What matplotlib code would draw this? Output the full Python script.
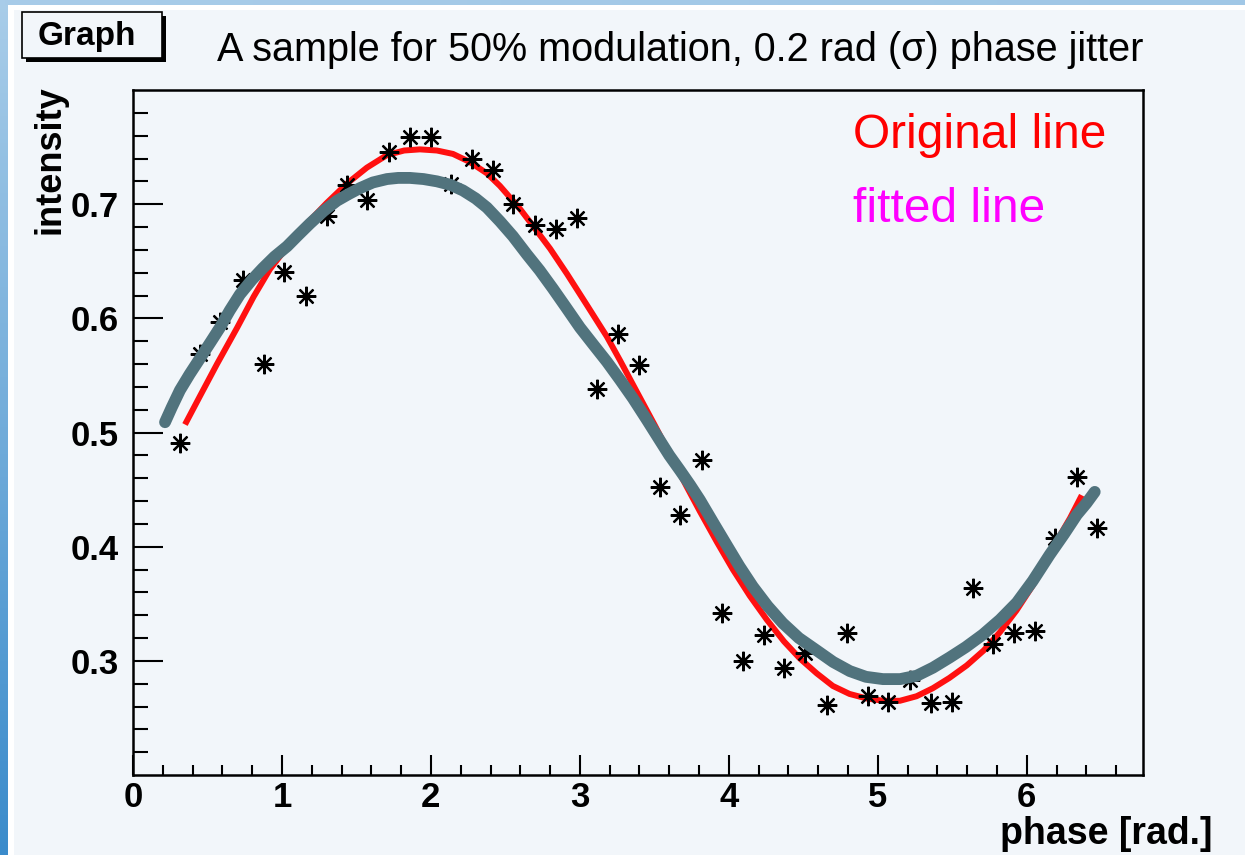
import numpy as np
import matplotlib
matplotlib.use("Agg")
import matplotlib.pyplot as plt
from matplotlib.patches import Rectangle
from matplotlib.colors import LinearSegmentedColormap

# ---- data ----
meas_x = [0.315, 0.45, 0.584, 0.738, 0.879, 1.013, 1.161, 1.302, 1.436, 1.57,
          1.718, 1.859, 2.0, 2.134, 2.275, 2.416, 2.55, 2.698, 2.839, 2.98,
          3.114, 3.255, 3.396, 3.537, 3.671, 3.819, 3.953, 4.094, 4.235, 4.369,
          4.51, 4.658, 4.792, 4.933, 5.067, 5.215, 5.356, 5.497, 5.638, 5.772,
          5.913, 6.054, 6.188, 6.336, 6.47]
meas_y = [0.491, 0.569, 0.597, 0.634, 0.560, 0.641, 0.620, 0.690, 0.717, 0.704,
          0.746, 0.759, 0.759, 0.718, 0.740, 0.730, 0.700, 0.682, 0.678, 0.688,
          0.538, 0.586, 0.559, 0.452, 0.428, 0.476, 0.342, 0.300, 0.323, 0.294,
          0.307, 0.261, 0.324, 0.269, 0.264, 0.283, 0.263, 0.264, 0.364, 0.315,
          0.324, 0.326, 0.408, 0.461, 0.416]

orig_x = [0.349, 0.45, 0.564, 0.70, 0.81, 0.919, 1.05, 1.168, 1.30, 1.436, 1.57, 1.705,
          1.82, 1.926, 2.04, 2.148, 2.26, 2.376, 2.463, 2.597, 2.685, 2.80, 2.913,
          3.05, 3.181, 3.27, 3.356, 3.50, 3.624, 3.715, 3.805, 3.92, 4.027, 4.14,
          4.255, 4.37, 4.477, 4.59, 4.698, 4.81, 4.926, 5.04, 5.148, 5.26, 5.369,
          5.48, 5.597, 5.71, 5.819, 5.93, 6.04, 6.12, 6.201, 6.29, 6.369]
orig_y = [0.507, 0.532, 0.560, 0.592, 0.619, 0.643, 0.665, 0.683, 0.701, 0.718, 0.732, 0.743,
          0.747, 0.748, 0.747, 0.744, 0.737, 0.727, 0.716, 0.696, 0.681, 0.661, 0.639,
          0.611, 0.584, 0.563, 0.542, 0.507, 0.476, 0.453, 0.431, 0.404, 0.380, 0.357,
          0.336, 0.317, 0.302, 0.289, 0.278, 0.271, 0.267, 0.265, 0.265, 0.269, 0.276,
          0.285, 0.296, 0.309, 0.325, 0.344, 0.366, 0.385, 0.405, 0.425, 0.445]

fit_x = [0.215, 0.26, 0.315, 0.38, 0.45, 0.52, 0.584, 0.65, 0.718, 0.80, 0.872, 0.95,
         1.034, 1.11, 1.188, 1.28, 1.369, 1.45, 1.523, 1.61, 1.705, 1.78, 1.859,
         1.95, 2.04, 2.13, 2.215, 2.30, 2.376, 2.463, 2.55, 2.644, 2.73, 2.819,
         2.91, 3.0, 3.09, 3.181, 3.27, 3.356, 3.45, 3.537, 3.60, 3.671, 3.74, 3.805,
         3.90, 3.987, 4.07, 4.161, 4.26, 4.362, 4.47, 4.591, 4.70, 4.812, 4.92,
         5.034, 5.15, 5.262, 5.37, 5.483, 5.59, 5.705, 5.82, 5.933, 6.04, 6.154,
         6.25, 6.336, 6.40, 6.456]
fit_y = [0.509, 0.522, 0.537, 0.551, 0.565, 0.579, 0.592, 0.607, 0.621, 0.634, 0.644, 0.654,
         0.663, 0.673, 0.683, 0.694, 0.703, 0.709, 0.714, 0.719, 0.722, 0.723, 0.723,
         0.722, 0.720, 0.717, 0.712, 0.705, 0.697, 0.685, 0.672, 0.656, 0.642, 0.626,
         0.609, 0.592, 0.577, 0.562, 0.546, 0.530, 0.511, 0.493, 0.480, 0.467, 0.454, 0.441,
         0.420, 0.401, 0.383, 0.365, 0.348, 0.333, 0.320, 0.309, 0.299, 0.291, 0.286,
         0.284, 0.284, 0.287, 0.294, 0.303, 0.312, 0.323, 0.336, 0.351, 0.370, 0.393,
         0.411, 0.428, 0.438, 0.448]

x_major = [0, 1, 2, 3, 4, 5, 6]
y_major = [0.3, 0.4, 0.5, 0.6, 0.7]
y_major_labels = ["0.3", "0.4", "0.5", "0.6", "0.7"]

W, H = 1245, 855
panel = "#f2f6fa"
fig = plt.figure(figsize=(W / 100, H / 100), dpi=100, facecolor=panel)

# ---- window frame decoration ----
fig.add_artist(Rectangle((8 / W, 0), 6 / W, 1 - 5 / H, transform=fig.transFigure,
                         facecolor="white", edgecolor="none", zorder=0))
fig.add_artist(Rectangle((8 / W, 1 - 10 / H), 1, 5 / H, transform=fig.transFigure,
                         facecolor="white", edgecolor="none", zorder=0))
grad = np.linspace(0, 1, 256).reshape(-1, 1)
axl = fig.add_axes([0, 0, 8 / W, 1])
cm_l = LinearSegmentedColormap.from_list("l", ["#a9cde9", "#3a8bcb"])
axl.imshow(grad, aspect="auto", cmap=cm_l, extent=[0, 1, 0, 1], origin="upper")
axl.set_axis_off()
axt = fig.add_axes([0, 1 - 5 / H, 1, 5 / H])
cm_t = LinearSegmentedColormap.from_list("t", ["#a8cce9", "#a0c7e6"])
axt.imshow(grad.T, aspect="auto", cmap=cm_t, extent=[0, 1, 0, 1])
axt.set_axis_off()

# ---- main axes ----
ax = fig.add_axes([133 / W, 80 / H, (1143 - 133) / W, (775 - 90) / H])
ax.set_facecolor(panel)

ax.plot(orig_x, orig_y, color="#ff1010", lw=4.3, solid_capstyle="butt",
        solid_joinstyle="round", zorder=2)
ax.plot(meas_x, meas_y, linestyle="none", marker=(8, 2, 0), markersize=14,
        markeredgewidth=1.6, color="black", zorder=3)
ax.plot(fit_x, fit_y, color="#51737d", lw=8.5, solid_capstyle="round",
        solid_joinstyle="round", zorder=4)

ax.set_xlim(0, 6.78)
ax.set_ylim(0.2, 0.8)

ax.set_xticks(x_major)
ax.set_xticklabels([str(v) for v in x_major])
ax.set_xticks(np.arange(0.2, 6.7, 0.2), minor=True)
ax.set_yticks(y_major)
ax.set_yticklabels(y_major_labels)
ax.set_yticks(np.arange(0.22, 0.795, 0.02), minor=True)

ax.tick_params(axis="y", which="major", direction="in", length=21.6, width=1.5,
               pad=10, labelsize=25)
ax.tick_params(axis="y", which="minor", direction="in", length=10.8, width=1.5)
ax.tick_params(axis="x", which="major", direction="in", length=14.4, width=1.5,
               pad=4, labelsize=25)
ax.tick_params(axis="x", which="minor", direction="in", length=7.2, width=1.5)
ax.tick_params(top=False, right=False, which="both")
for lab in ax.get_xticklabels() + ax.get_yticklabels():
    lab.set_fontfamily("Liberation Sans")
    lab.set_fontweight("bold")
for s in ax.spines.values():
    s.set_linewidth(1.8)
    s.set_color("black")

# axis titles
fig.text(50 / W, 1 - 160 / H, "intensity", rotation=90, ha="center", va="center",
         fontsize=26, fontweight="bold", family="Liberation Sans")
fig.text(1212 / W, 1 - 834 / H, "phase [rad.]", ha="right", va="center",
         fontsize=27, fontweight="bold", family="Liberation Sans")

# title
fig.text(680 / W, 1 - 50 / H, "A sample for 50% modulation, 0.2 rad (σ) phase jitter",
         ha="center", va="center", fontsize=28.5, family="Liberation Sans")

# Graph box
fig.add_artist(Rectangle((26 / W, 1 - 62 / H), 140 / W, 46 / H, transform=fig.transFigure,
                         facecolor="black", edgecolor="none", zorder=5))
fig.add_artist(Rectangle((22 / W, 1 - 58 / H), 140 / W, 46 / H, transform=fig.transFigure,
                         facecolor=panel, edgecolor="black", lw=1.2, zorder=6))
fig.text(87 / W, 1 - 36 / H, "Graph", ha="center", va="center", fontsize=24,
         fontweight="bold", family="Liberation Sans", zorder=7)

# legend-like texts
fig.text(853 / W, 1 - 135 / H, "Original line", ha="left", va="center",
         fontsize=34.5, color="#ff0000", family="Liberation Sans")
fig.text(853 / W, 1 - 210 / H, "fitted line", ha="left", va="center",
         fontsize=34.5, color="#ff00ff", family="Liberation Sans")

fig.savefig("out.png", dpi=100, facecolor=panel)
